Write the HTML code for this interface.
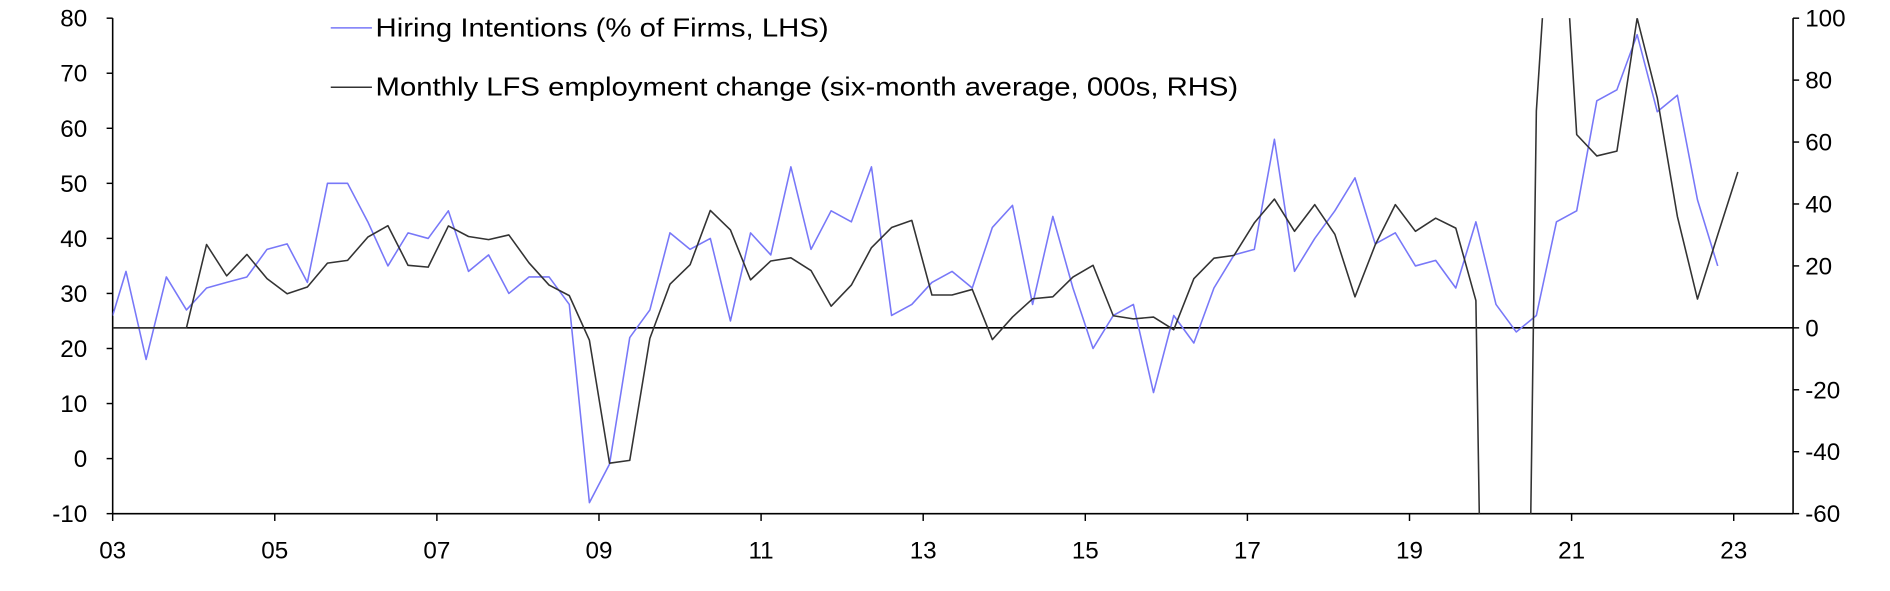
<!DOCTYPE html>
<html><head><meta charset="utf-8"><style>
html,body{margin:0;padding:0;background:#fff;width:1890px;height:591px;overflow:hidden;}
svg{display:block;overflow:hidden;}
text{font-family:"Liberation Sans",Arial,sans-serif;fill:#000;}
</style></head><body>
<svg id="c" width="1890" height="591" viewBox="0 0 1560 487.8" xmlns="http://www.w3.org/2000/svg">
<defs><clipPath id="pa"><rect x="93" y="15" width="1387" height="409"/></clipPath></defs>
<g id="g"></g>
</svg>
<script>
const NS="http://www.w3.org/2000/svg",g=document.getElementById('g');
function el(t,a,txt){const e=document.createElementNS(NS,t);for(const k in a)e.setAttribute(k,a[k]);if(txt!==undefined)e.textContent=txt;g.appendChild(e);return e;}
const L=93,R=1480,T=15,B=424;
const yl=v=>T+(80-v)*4.544, yr=v=>T+(100-v)*2.556;
const X=i=>104+16.63*i;
el('line',{x1:L,y1:T,x2:L,y2:B,stroke:'#000','stroke-width':1.3});
el('line',{x1:R,y1:T,x2:R,y2:B,stroke:'#000','stroke-width':1.3});
el('line',{x1:L,y1:B,x2:R,y2:B,stroke:'#000','stroke-width':1.3});
el('line',{x1:L,y1:yr(0),x2:R,y2:yr(0),stroke:'#000','stroke-width':1.3});
for(let v=-10;v<=80;v+=10){const y=yl(v);el('line',{x1:L-5,y1:y,x2:L,y2:y,stroke:'#000','stroke-width':1.2});el('text',{x:72,y:y+7,'font-size':20,'text-anchor':'end'},v);}
for(let v=-60;v<=100;v+=20){const y=yr(v);el('line',{x1:R,y1:y,x2:R+5,y2:y,stroke:'#000','stroke-width':1.2});el('text',{x:1490,y:y+7,'font-size':20},v);}
const yrs=['03','05','07','09','11','13','15','17','19','21','23'];
yrs.forEach((s,k)=>{const x=93+133.8*k;el('line',{x1:x,y1:B,x2:x,y2:B+6,stroke:'#000','stroke-width':1.2});el('text',{x:x,y:461,'font-size':20,'text-anchor':'middle'},s);});
const b=[34,18,33,27,31,32,33,38,39,32,50,50,43,35,41,40,45,34,37,30,33,33,28,-8,-1,22,27,41,38,40,25,41,37,53,38,45,43,53,26,28,32,
34,31,42,46,28,44,31,20,26,28,12,26,21,31,37,38,58,34,40,45,51,39,41,35,36,31,43,28,23,26,43,45,65,67,77,63,66,47,35];
let bp=[[93,yl(26)]];b.forEach((v,i)=>bp.push([X(i),yl(v)]));
const k=[0,26.9,16.8,23.7,15.9,11,13.2,20.9,21.8,29.3,33.0,20.2,19.6,32.9,29.5,28.5,30,21,13.8,10.4,-4,-43.7,-42.8,-3.4,14.1,20.4,37.9,31.6,15.5,21.6,22.6,18.5,7,13.8,25.9,32.4,34.7,10.6,
10.6,12.4,-3.8,3.5,9.4,10,16.4,20.2,3.9,2.9,3.5,-0.6,15.9,22.5,23.4,33.9,41.6,31.2,39.8,30.2,10,26.8,39.8,31.2,35.4,32.2,8.8,-400,-400,70,170,62.4,55.5,57.1,100,74.3,36,9.3,30,50.3];
let kp=[[93,yr(0)]];k.forEach((v,i)=>kp.push([X(i+3),yr(v)]));
const pts=a=>a.map(p=>p[0].toFixed(1)+','+p[1].toFixed(1)).join(' ');
const cg=document.createElementNS(NS,'g');cg.setAttribute('clip-path','url(#pa)');g.appendChild(cg);
function pl(a,c,w){const e=document.createElementNS(NS,'polyline');e.setAttribute('points',pts(a));e.setAttribute('fill','none');e.setAttribute('stroke',c);e.setAttribute('stroke-width',w);e.setAttribute('stroke-linejoin','round');cg.appendChild(e);}
pl(bp,'#7878f8',1.3);
pl(kp,'#333333',1.3);
el('line',{x1:273,y1:23,x2:307,y2:23,stroke:'#7878f8','stroke-width':1.3});
el('text',{x:310,y:30,'font-size':21,textLength:374,lengthAdjust:'spacingAndGlyphs'},'Hiring Intentions (% of Firms, LHS)');
el('line',{x1:273,y1:72,x2:307,y2:72,stroke:'#333','stroke-width':1.3});
el('text',{x:310,y:79,'font-size':21,textLength:712,lengthAdjust:'spacingAndGlyphs'},'Monthly LFS employment change (six-month average, 000s, RHS)');
</script>
</body></html>
